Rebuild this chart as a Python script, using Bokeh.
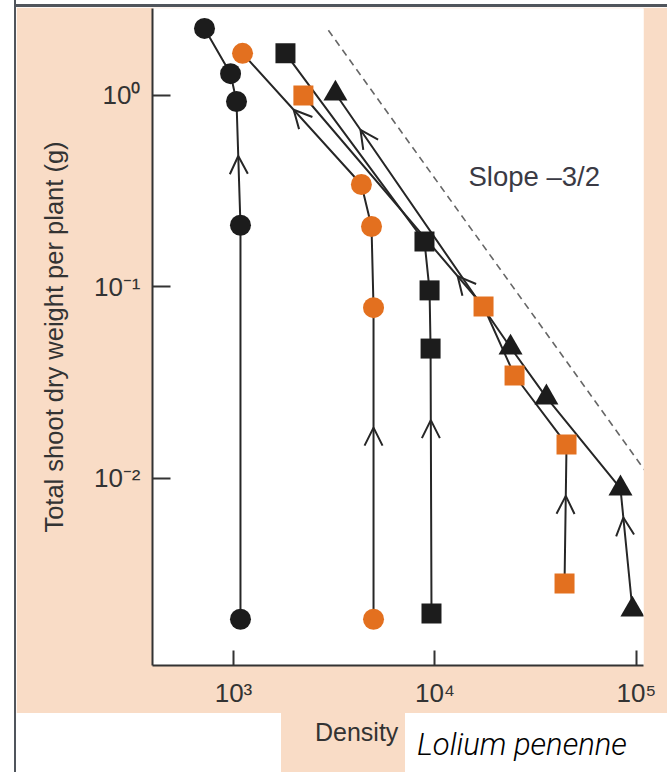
from bokeh.plotting import figure
from bokeh.models import (Range1d, FixedTicker, CustomJSTickFormatter, Label, Arrow,
                          OpenHead, Div)
from bokeh.layouts import row, column
from bokeh.embed import file_html
from bokeh.resources import INLINE
import math

# ---------------- data (density, shoot dry weight g) ----------------
circ_black_d = [1083, 1083, 1035, 967, 718]
circ_black_w = [0.00184, 0.21, 0.93, 1.30, 2.24]

circ_orange_d = [4955, 4955, 4842, 4313, 1109]
circ_orange_w = [0.00184, 0.078, 0.207, 0.343, 1.66]

sq_black_d = [9610, 9510, 9400, 8870, 1811]
sq_black_w = [0.00197, 0.0477, 0.096, 0.173, 1.66]

sq_orange_d = [43960, 44970, 24830, 17420, 2223]
sq_orange_w = [0.00283, 0.01506, 0.0345, 0.0791, 1.0]

tri_black_d = [95500, 83310, 35730, 23720, 3206]
tri_black_w = [0.00207, 0.00887, 0.0265, 0.0483, 1.024]

slope_d = [2958, 110900]
slope_w = [2.19, 0.0109]

x_ticks = [1e3, 1e4, 1e5]
y_ticks = [1e-2, 1e-1, 1e0]

# arrows: (series, segment index, fraction along segment)
arrow_specs = [
    ("cb", 1, 0.56),
    ("co", 0, 0.615), ("co", 3, 0.57),
    ("sb", 0, 0.73),
    ("so", 0, 0.63), ("so", 3, 0.144),
    ("tb", 0, 0.76), ("tb", 3, 0.857),
]

PEACH = "#f9dcc6"
ORANGE = "#e3701f"
BLACK = "#1c1c1c"
LINE = "#262626"
TXT = "#333333"
FONT = "Liberation Sans"
GRAY = "#50555c"

p = figure(x_axis_type="log", y_axis_type="log",
           x_range=Range1d(10 ** 2.598, 10 ** 5.035),
           y_range=Range1d(10 ** -2.9765, 10 ** 0.4543),
           frame_width=491, frame_height=657,
           min_border_left=136, min_border_right=24,
           min_border_top=1, min_border_bottom=48,
           output_backend="svg", toolbar_location=None,
           border_fill_color=PEACH, background_fill_color="white",
           outline_line_color=None, margin=0)
p.grid.visible = False

fmt = CustomJSTickFormatter(code="""
const e = Math.round(Math.log10(tick));
const sup = {'-':'\u207b','0':'\u2070','1':'\u00b9','2':'\u00b2','3':'\u00b3','4':'\u2074','5':'\u2075'};
return '10' + String(e).split('').map(c => sup[c]).join('');
""")

for ax, ticks, tin in ((p.xaxis[0], x_ticks, 15), (p.yaxis[0], y_ticks, 18)):
    ax.ticker = FixedTicker(ticks=ticks, minor_ticks=[])
    ax.formatter = fmt
    ax.axis_line_color = TXT
    ax.axis_line_width = 2
    ax.major_tick_line_color = TXT
    ax.major_tick_line_width = 2
    ax.major_tick_in = tin
    ax.major_tick_out = 0
    ax.minor_tick_line_color = None
    ax.major_label_text_font = FONT
    ax.major_label_text_font_size = "26px"
    ax.major_label_text_color = TXT
    ax.major_label_standoff = 12

p.yaxis.axis_label = "Total shoot dry weight per plant (g)"
p.yaxis.axis_label_text_font = FONT
p.yaxis.axis_label_text_font_size = "25.5px"
p.yaxis.axis_label_text_font_style = "normal"
p.yaxis.axis_label_text_color = TXT
p.yaxis.axis_label_standoff = 23

# slope reference line
p.line(slope_d, slope_w, line_color="#666666", line_width=1.6, line_dash="7 5")
p.add_layout(Label(x=14660, y=0.378, text="Slope \u20133/2", text_align="left",
                   text_baseline="middle", text_font=FONT,
                   text_font_size="27.5px", text_color="#3a3a44"))

series = {
    "cb": (circ_black_d, circ_black_w, "circle", BLACK, 21),
    "co": (circ_orange_d, circ_orange_w, "circle", ORANGE, 21),
    "sb": (sq_black_d, sq_black_w, "square", BLACK, 20),
    "so": (sq_orange_d, sq_orange_w, "square", ORANGE, 20),
    "tb": (tri_black_d, tri_black_w, "triangle", BLACK, 24),
}
for key, (d, w, mk, col, sz) in series.items():
    p.line(d, w, line_color=LINE, line_width=2)
for key, (d, w, mk, col, sz) in series.items():
    p.scatter(d, w, marker=mk, size=sz, fill_color=col, line_color=None)

for key, i, t in arrow_specs:
    d, w = series[key][0], series[key][1]
    lx0, lx1 = math.log10(d[i]), math.log10(d[i + 1])
    ly0, ly1 = math.log10(w[i]), math.log10(w[i + 1])
    xe, ye = 10 ** (lx0 + t * (lx1 - lx0)), 10 ** (ly0 + t * (ly1 - ly0))
    ts = t - 0.05
    xs, ys = 10 ** (lx0 + ts * (lx1 - lx0)), 10 ** (ly0 + ts * (ly1 - ly0))
    p.add_layout(Arrow(end=OpenHead(size=18, line_width=2, line_color=LINE),
                       x_start=xs, y_start=ys, x_end=xe, y_end=ye,
                       line_alpha=0))

# ---------------- page decorations ----------------
left_strip = Div(text="", width=16, height=772, margin=0, styles={
    "background": f"linear-gradient(to right, white 0px, white 14px, {GRAY} 14px, {GRAY} 16px)"})
top_strip = Div(text="", width=651, height=7, margin=0, styles={
    "background": f"linear-gradient(to bottom, white 0px, white 4px, {GRAY} 4px, {GRAY} 7px)"})

bl = Div(text="", width=265, height=59, margin=0, styles={"background-color": "white"})
dens = Div(text=(f"<div style=\"font-family:'{FONT}';font-size:25px;line-height:1;"
                 f"color:{TXT};padding-top:7px;padding-left:34px;white-space:nowrap\">Density</div>"),
           width=124, height=59, margin=0,
           styles={"background-color": PEACH, "overflow": "hidden"})
spec = Div(text=("<div style=\"font-family:Roboto;font-weight:300;font-style:italic;"
                 "font-size:31px;line-height:1;color:#000;padding-top:16px;padding-left:12px;"
                 "white-space:nowrap\">Lolium penenne</div>"),
           width=262, height=59, margin=0,
           styles={"background-color": "white", "overflow": "hidden"})

layout = row(left_strip,
             column(top_strip, p, row(bl, dens, spec, spacing=0, margin=0),
                    spacing=0, margin=0),
             spacing=0, margin=0)

open("out.html", "w").write(file_html(layout, INLINE))
